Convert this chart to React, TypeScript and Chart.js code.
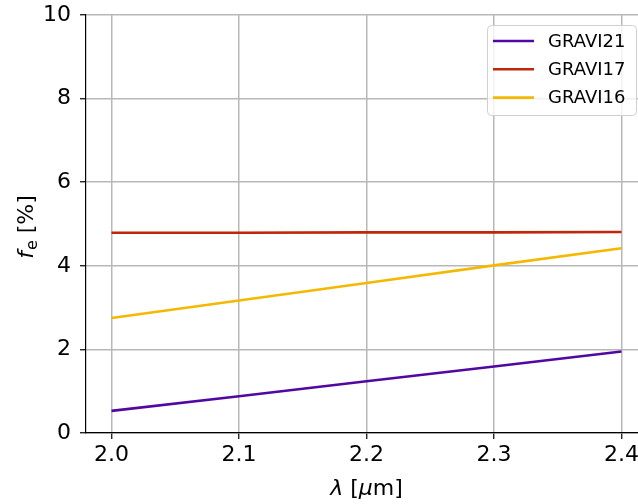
import React, { useEffect, useRef } from "react";
import { Chart, registerables } from "chart.js";

Chart.register(...registerables);

const wavelengths = [2.0, 2.1, 2.2, 2.3, 2.4];
const gravi21 = [0.53, 0.88, 1.24, 1.59, 1.95];
const gravi17 = [4.79, 4.79, 4.8, 4.8, 4.81];
const gravi16 = [2.75, 3.17, 3.59, 4.01, 4.42];
const seriesNames = ["GRAVI21", "GRAVI17", "GRAVI16"];
const seriesColors = ["#5208a0", "#c0260a", "#f5b800"];
const xTicks = [2.0, 2.1, 2.2, 2.3, 2.4];
const yTicks = [0, 2, 4, 6, 8, 10];

const FONT = "'DejaVu Sans', sans-serif";
const TS = 22;

const customPlugin = {
  id: "custom",
  afterDraw(chart: any) {
    const ctx = chart.ctx as CanvasRenderingContext2D;
    const area = chart.chartArea;
    ctx.save();
    ctx.fillStyle = "#000";
    ctx.textBaseline = "alphabetic";
    ctx.textAlign = "left";
    // x title: λ [μm]
    const cx = (area.left + area.right) / 2;
    const xy = 495;
    const parts: [string, boolean][] = [["λ", true], [" [", false], ["μ", true], ["m]", false]];
    let total = 0;
    const widths = parts.map(([t, it]) => {
      ctx.font = `${it ? "italic " : ""}${TS}px ${FONT}`;
      const w = ctx.measureText(t).width;
      total += w;
      return w;
    });
    let x = cx - total / 2;
    parts.forEach(([t, it], i) => {
      ctx.font = `${it ? "italic " : ""}${TS}px ${FONT}`;
      ctx.fillText(t, x, xy);
      x += widths[i];
    });

    // y title (rotated): f_e [%]
    const cy = (area.top + area.bottom) / 2;
    ctx.translate(33, cy + 3);
    ctx.rotate(-Math.PI / 2);
    ctx.font = `italic ${TS}px ${FONT}`;
    const wf = ctx.measureText("f").width + 1;
    ctx.font = `16px ${FONT}`;
    const we = ctx.measureText("e").width;
    ctx.font = `${TS}px ${FONT}`;
    const wr = ctx.measureText(" [%]").width;
    let yx = -(wf + we + wr) / 2;
    ctx.font = `italic ${TS}px ${FONT}`;
    ctx.fillText("f", yx, 0);
    yx += wf;
    ctx.font = `16px ${FONT}`;
    ctx.fillText("e", yx, 4);
    yx += we;
    ctx.font = `${TS}px ${FONT}`;
    ctx.fillText(" [%]", yx, 0);
    ctx.restore();

    // legend
    ctx.save();
    const lx = 487.5, ly = 25.5, lw = 149, lh = 90, r = 4;
    ctx.beginPath();
    ctx.moveTo(lx + r, ly);
    ctx.lineTo(lx + lw - r, ly);
    ctx.arcTo(lx + lw, ly, lx + lw, ly + r, r);
    ctx.lineTo(lx + lw, ly + lh - r);
    ctx.arcTo(lx + lw, ly + lh, lx + lw - r, ly + lh, r);
    ctx.lineTo(lx + r, ly + lh);
    ctx.arcTo(lx, ly + lh, lx, ly + lh - r, r);
    ctx.lineTo(lx, ly + r);
    ctx.arcTo(lx, ly, lx + r, ly, r);
    ctx.closePath();
    ctx.fillStyle = "rgba(255,255,255,0.8)";
    ctx.fill();
    ctx.strokeStyle = "#d0d0d0";
    ctx.lineWidth = 1;
    ctx.stroke();
    ctx.font = `18px ${FONT}`;
    ctx.textBaseline = "middle";
    ctx.textAlign = "left";
    chart.data.datasets.forEach((ds: any, i: number) => {
      const yy = 41 + i * 28.3;
      ctx.strokeStyle = ds.borderColor;
      ctx.lineWidth = 2.6;
      ctx.beginPath();
      ctx.moveTo(493, yy);
      ctx.lineTo(534, yy);
      ctx.stroke();
      ctx.fillStyle = "#000";
      ctx.fillText(ds.label, 548, yy + 1);
    });
    ctx.restore();
  },
};

export default function App() {
  const ref = useRef<HTMLCanvasElement>(null);
  useEffect(() => {
    document.body.style.margin = "0";
    const values = [gravi21, gravi17, gravi16];
    const chart = new Chart(ref.current!, {
      type: "line",
      data: {
        datasets: seriesNames.map((name, i) => ({
          label: name,
          data: wavelengths.map((w, j) => ({ x: w, y: values[i][j] })),
          borderColor: seriesColors[i],
          backgroundColor: seriesColors[i],
          borderWidth: 2.6,
          pointRadius: 0,
          tension: 0,
        })),
      },
      options: {
        responsive: false,
        animation: false,
        layout: { padding: { left: 0, right: 0, top: 15, bottom: 0 } },
        plugins: { legend: { display: false }, tooltip: { enabled: false } },
        scales: {
          x: {
            type: "linear",
            min: 1.98,
            max: 2.42,
            afterBuildTicks: (s: any) => {
              s.ticks = xTicks.map((v) => ({ value: v }));
            },
            afterFit: (s: any) => {
              s.height = 71;
              s.paddingLeft = 0;
              s.paddingRight = 0;
            },
            ticks: {
              font: { family: FONT, size: TS },
              color: "#000",
              padding: 3,
              maxRotation: 0,
              autoSkip: false,
              callback: (v: any) => Number(v).toFixed(1),
            },
            grid: { color: "#b8b8b8", lineWidth: 1.5, tickLength: 6, tickColor: "#000", tickWidth: 1.2 },
            border: { color: "#000", width: 1.2 },
          },
          y: {
            type: "linear",
            min: 0,
            max: 10,
            afterBuildTicks: (s: any) => {
              s.ticks = yTicks.map((v) => ({ value: v }));
            },
            afterFit: (s: any) => {
              s.width = 86;
              s.paddingTop = 0;
              s.paddingBottom = 0;
            },
            ticks: {
              font: { family: FONT, size: TS },
              color: "#000",
              padding: 9,
              autoSkip: false,
            },
            grid: { color: "#b8b8b8", lineWidth: 1.5, tickLength: 6, tickColor: "#000", tickWidth: 1.2 },
            border: { color: "#000", width: 1.2 },
          },
        },
      },
      plugins: [customPlugin],
    });
    return () => chart.destroy();
  }, []);
  return (
    <div style={{ width: 638, height: 504, overflow: "hidden", position: "relative" }}>
      <canvas ref={ref} width={647} height={504} style={{ display: "block", width: 647, height: 504 }} />
    </div>
  );
}
